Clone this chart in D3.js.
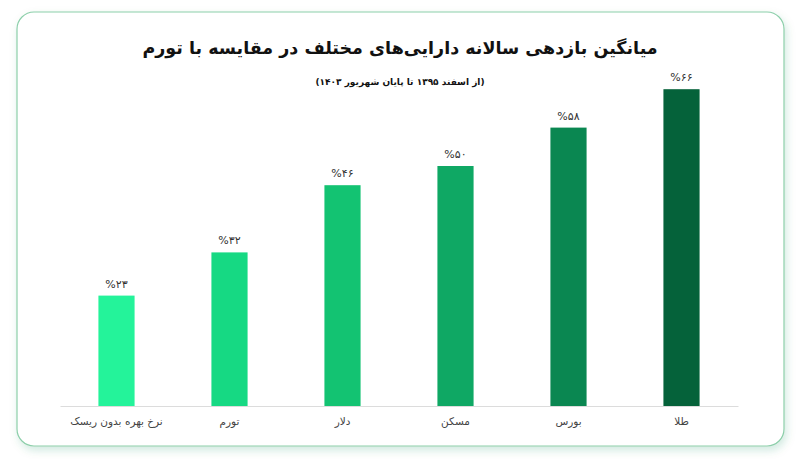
<!DOCTYPE html>
<html><head><meta charset="utf-8">
<script src="https://cdn.jsdelivr.net/npm/d3@7"></script>
<style>html,body{margin:0;padding:0;background:#fff;}svg{display:block;}</style>
</head><body>
<svg id="c" width="800" height="459"></svg>
<script>
const categories = ["نرخ بهره بدون ریسک","تورم","دلار","مسکن","بورس","طلا"];
const values = [23,32,46,50,58,66];
const valueLabels = ["%۲۳","%۳۲","%۴۶","%۵۰","%۵۸","%۶۶"];
const colors = ["#24f39a","#16d983","#13c372","#0fa864","#0a8751","#05623a"];
const title = "میانگین بازدهی سالانه دارایی‌های مختلف در مقایسه با تورم";
const subtitle = "(از اسفند ۱۳۹۵ تا پایان شهریور ۱۴۰۳)";

const svg = d3.select("#c");
const defs = svg.append("defs");
const f = defs.append("filter").attr("id","sh").attr("x","-10%").attr("y","-10%").attr("width","120%").attr("height","125%");
f.append("feDropShadow").attr("dx",2).attr("dy",4).attr("stdDeviation",4).attr("flood-color","#0a8751").attr("flood-opacity",0.18);

svg.append("rect").attr("x",17).attr("y",12).attr("width",767).attr("height",434).attr("rx",17)
  .attr("fill","#fff").attr("stroke","#8ccfaa").attr("stroke-width",1.2).attr("filter","url(#sh)");

const x = d3.scaleBand().domain(categories).range([60,738]).paddingInner(0.68).paddingOuter(0.34);
const y = d3.scaleLinear().domain([0,70]).range([406,70]);

svg.append("text").attr("x",400).attr("y",54).attr("text-anchor","middle").attr("direction","rtl")
  .attr("font-family","DejaVu Sans").attr("font-weight","bold").attr("font-size",17.5).attr("fill","#111").text(title);
svg.append("text").attr("x",400).attr("y",85).attr("text-anchor","middle").attr("direction","rtl")
  .attr("font-family","DejaVu Sans").attr("font-weight","bold").attr("font-size",9).attr("fill","#111").text(subtitle);

svg.selectAll("rect.bar").data(values).join("rect").attr("class","bar")
  .attr("x",(d,i)=>x(categories[i])).attr("width",x.bandwidth())
  .attr("y",d=>y(d)).attr("height",d=>y(0)-y(d)).attr("fill",(d,i)=>colors[i]);

svg.selectAll("text.val").data(values).join("text").attr("class","val")
  .attr("x",(d,i)=>x(categories[i])+x.bandwidth()/2).attr("y",d=>y(d)-8)
  .attr("text-anchor","middle").attr("font-family","DejaVu Sans").attr("font-size",11).attr("fill","#333")
  .text((d,i)=>valueLabels[i]);

const ax = svg.append("g").attr("transform","translate(0,406)").call(d3.axisBottom(x).tickSize(0).tickPadding(12));
ax.select(".domain").attr("stroke","#dcdcdc");
ax.selectAll("text").attr("font-family","DejaVu Sans").attr("font-size",10.5).attr("fill","#444").attr("direction","rtl");
</script>
</body></html>
